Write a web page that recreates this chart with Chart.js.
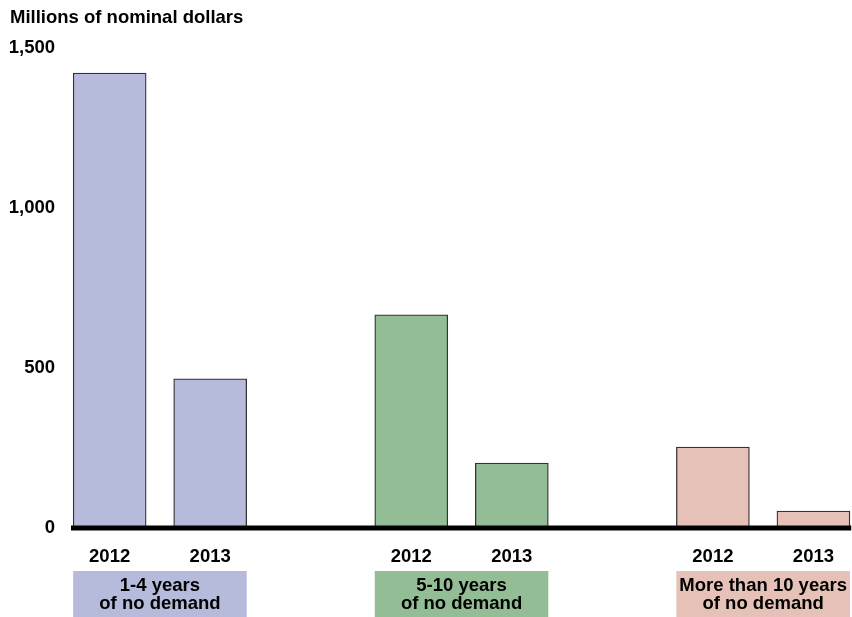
<!DOCTYPE html>
<html>
<head>
<meta charset="utf-8">
<script src="https://cdn.jsdelivr.net/npm/chart.js@4"></script>
<style>
  body { margin: 0; background: #fff; }
  #wrap { width: 852px; height: 617px; position: relative; }
</style>
</head>
<body>
<div id="wrap"><canvas id="chart"></canvas></div>
<script>
'use strict'

// ************* Data ****************
let groups = [['1-4 years', 'of no demand'], ['5-10 years', 'of no demand'], ['More than 10 years', 'of no demand']];
let years = ['2012', '2013'];
let values2012 = [1422, 666, 253];
let values2013 = [466, 203, 53];
let groupColors = ['#b7bbdb', '#93bd94', '#e5c1b7'];
let yTicks = [0, 500, 1000, 1500];
let yTitle = 'Millions of nominal dollars';

let FONT = 'bold 18.5px "Liberation Sans", Arial, sans-serif';

// each group takes 3 slots: 2012, 2013, gap
let points = [];
let colors = [];
for (let g = 0; g < groups.length; g++) {
  points.push({ x: g * 3, y: values2012[g] });
  points.push({ x: g * 3 + 1, y: values2013[g] });
  colors.push(groupColors[g], groupColors[g]);
}

// ************* Plugins ****************
let extras = {
  id: 'extras',
  afterDatasetsDraw(chart) {
    let ctx = chart.ctx;
    let ys = chart.scales.y;
    let area = chart.chartArea;
    // thick baseline
    ctx.save();
    ctx.strokeStyle = '#000';
    ctx.lineWidth = 5;
    ctx.beginPath();
    ctx.moveTo(area.left - 1, ys.getPixelForValue(0));
    ctx.lineTo(area.right, ys.getPixelForValue(0));
    ctx.stroke();
    ctx.restore();
  },
  afterDraw(chart) {
    let ctx = chart.ctx;
    let xs = chart.scales.x;
    let half = 73 / 2;
    ctx.save();
    // y title
    ctx.font = FONT;
    ctx.fillStyle = '#000';
    ctx.textAlign = 'left';
    ctx.textBaseline = 'alphabetic';
    ctx.fillText(yTitle, 10, 23);
    // group boxes
    for (let g = 0; g < groups.length; g++) {
      let x1 = xs.getPixelForValue(g * 3) - half;
      let x2 = xs.getPixelForValue(g * 3 + 1) + half;
      ctx.fillStyle = groupColors[g];
      ctx.fillRect(x1, 571, x2 - x1, 46);
      ctx.fillStyle = '#000';
      ctx.textAlign = 'center';
      ctx.fillText(groups[g][0], (x1 + x2) / 2, 591);
      ctx.fillText(groups[g][1], (x1 + x2) / 2, 609);
    }
    ctx.restore();
  }
};

// ************* Chart ****************
let chart = new Chart(document.getElementById('chart'), {
  type: 'bar',
  data: {
    datasets: [{
      data: points,
      backgroundColor: colors,
      borderColor: '#333',
      borderWidth: 1.3,
      barThickness: 73
    }]
  },
  options: {
    responsive: true,
    maintainAspectRatio: false,
    animation: false,
    layout: { padding: { top: 48, right: 0, bottom: 0, left: 0 } },
    plugins: {
      legend: { display: false },
      tooltip: { enabled: false }
    },
    scales: {
      x: {
        type: 'linear',
        offset: false,
        min: -0.3746,
        max: 7.376,
        grid: { display: false, drawTicks: false },
        border: { display: false },
        afterBuildTicks(scale) {
          scale.ticks = points.map(p => ({ value: p.x }));
        },
        afterFit(scale) { scale.height = 89; },
        ticks: {
          color: '#000',
          font: { family: '"Liberation Sans", Arial, sans-serif', size: 18.5, weight: 'bold' },
          padding: 18,
          maxRotation: 0,
          autoSkip: false,
          callback: function (value) {
            return years[value % 3];
          }
        }
      },
      y: {
        min: 0,
        max: 1500,
        grid: { display: false, drawTicks: false },
        border: { display: false },
        afterBuildTicks(scale) {
          scale.ticks = yTicks.map(v => ({ value: v }));
        },
        afterFit(scale) { scale.width = 72; },
        ticks: {
          color: '#000',
          font: { family: '"Liberation Sans", Arial, sans-serif', size: 18.5, weight: 'bold' },
          padding: 17,
          callback: function (value) {
            return value.toLocaleString('en-US');
          }
        }
      }
    }
  },
  plugins: [extras]
});
</script>
</body>
</html>
